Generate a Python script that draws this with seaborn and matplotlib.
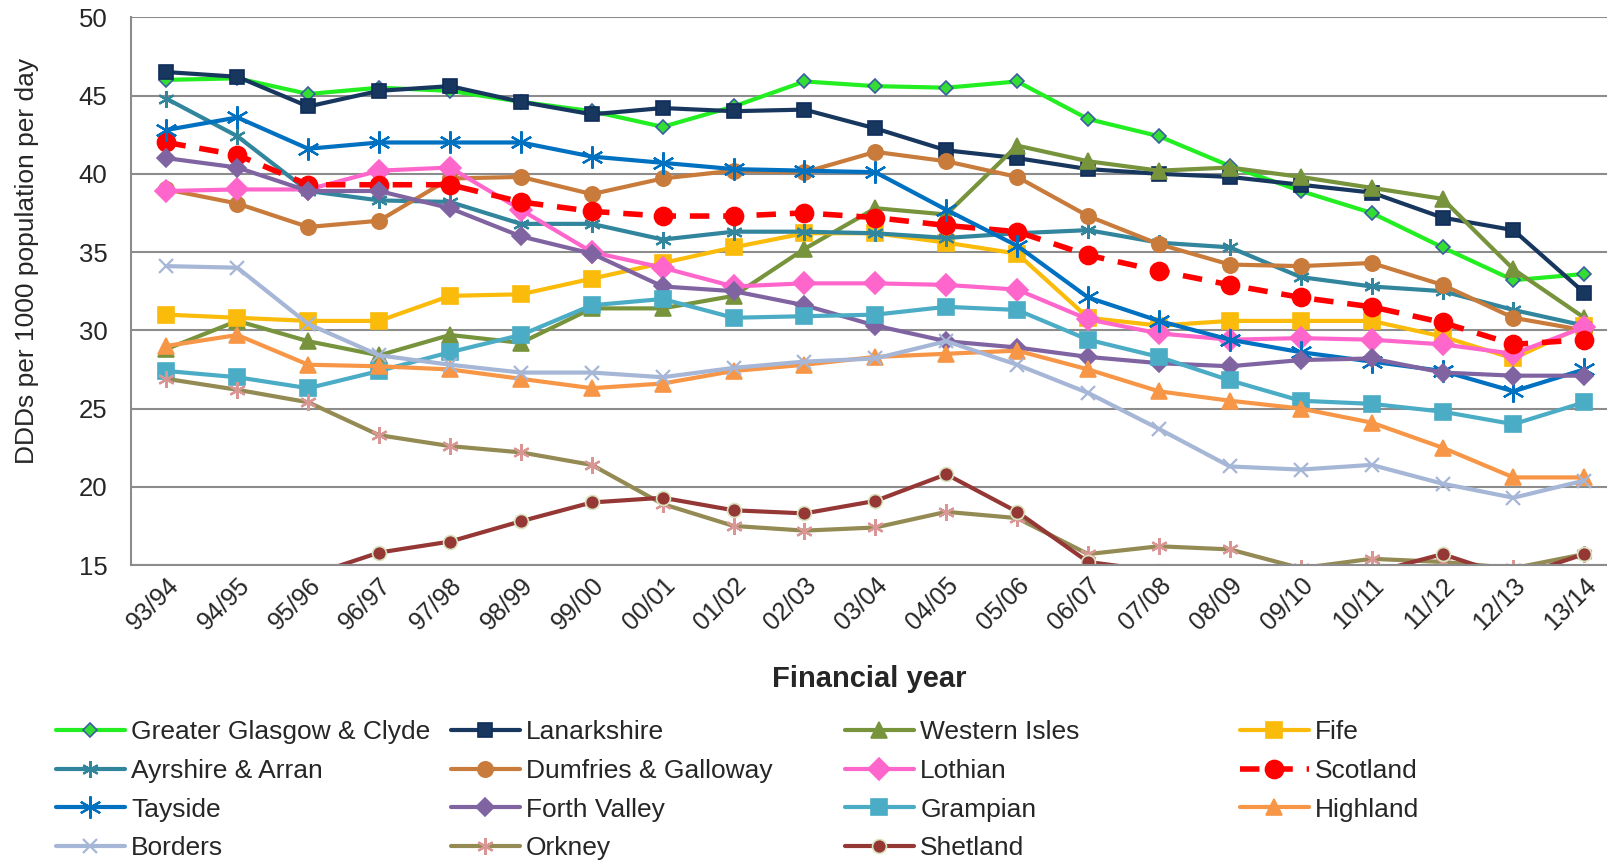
import pandas as pd
import matplotlib
matplotlib.use("Agg")
import matplotlib.pyplot as plt
import seaborn as sns

# financial years on the x axis
years = ["93/94", "94/95", "95/96", "96/97", "97/98", "98/99", "99/00", "00/01",
         "01/02", "02/03", "03/04", "04/05", "05/06", "06/07", "07/08", "08/09",
         "09/10", "10/11", "11/12", "12/13", "13/14"]

# DDDs per 1000 population per day
glasgow = [46.0, 46.1, 45.1, 45.5, 45.3, 44.6, 44.0, 43.0, 44.3, 45.9, 45.6,
           45.5, 45.9, 43.5, 42.4, 40.5, 38.9, 37.5, 35.3, 33.2, 33.6]
lanarkshire = [46.5, 46.2, 44.3, 45.3, 45.6, 44.6, 43.8, 44.2, 44.0, 44.1, 42.9,
               41.5, 41.0, 40.3, 40.0, 39.8, 39.3, 38.8, 37.2, 36.4, 32.4]
western_isles = [28.8, 30.6, 29.3, 28.4, 29.7, 29.2, 31.4, 31.4, 32.2, 35.2, 37.8,
                 37.4, 41.8, 40.8, 40.2, 40.4, 39.8, 39.1, 38.4, 33.9, 30.8]
fife = [31.0, 30.8, 30.6, 30.6, 32.2, 32.3, 33.3, 34.3, 35.3, 36.2, 36.2,
        35.6, 34.9, 30.8, 30.3, 30.6, 30.6, 30.6, 29.6, 28.2, 30.3]
ayrshire = [44.8, 42.4, 38.9, 38.3, 38.2, 36.8, 36.8, 35.8, 36.3, 36.3, 36.2,
            35.9, 36.2, 36.4, 35.6, 35.3, 33.4, 32.8, 32.5, 31.3, 30.3]
dumfries = [39.0, 38.1, 36.6, 37.0, 39.7, 39.8, 38.7, 39.7, 40.2, 40.1, 41.4,
            40.8, 39.8, 37.3, 35.5, 34.2, 34.1, 34.3, 32.9, 30.8, 30.0]
lothian = [38.9, 39.0, 39.0, 40.2, 40.4, 37.7, 35.0, 34.0, 32.8, 33.0, 33.0,
           32.9, 32.6, 30.7, 29.8, 29.4, 29.5, 29.4, 29.1, 28.5, 30.2]
scotland = [42.0, 41.2, 39.3, 39.3, 39.3, 38.2, 37.6, 37.3, 37.3, 37.5, 37.2,
            36.7, 36.3, 34.8, 33.8, 32.9, 32.1, 31.5, 30.5, 29.1, 29.4]
tayside = [42.8, 43.6, 41.6, 42.0, 42.0, 42.0, 41.1, 40.7, 40.3, 40.2, 40.1,
           37.7, 35.4, 32.1, 30.6, 29.4, 28.6, 28.0, 27.4, 26.1, 27.5]
forth_valley = [41.0, 40.4, 38.9, 38.9, 37.8, 36.0, 34.9, 32.8, 32.5, 31.6, 30.3,
                29.3, 28.9, 28.3, 27.9, 27.7, 28.1, 28.2, 27.3, 27.1, 27.1]
grampian = [27.4, 27.0, 26.3, 27.4, 28.6, 29.7, 31.6, 32.0, 30.8, 30.9, 31.0,
            31.5, 31.3, 29.4, 28.3, 26.8, 25.5, 25.3, 24.8, 24.0, 25.4]
highland = [29.0, 29.7, 27.8, 27.7, 27.5, 26.9, 26.3, 26.6, 27.4, 27.8, 28.3,
            28.5, 28.7, 27.5, 26.1, 25.5, 25.0, 24.1, 22.5, 20.6, 20.6]
borders = [34.1, 34.0, 30.4, 28.4, 27.8, 27.3, 27.3, 27.0, 27.6, 28.0, 28.2,
           29.3, 27.8, 26.0, 23.7, 21.3, 21.1, 21.4, 20.2, 19.3, 20.4]
orkney = [26.9, 26.2, 25.4, 23.3, 22.6, 22.2, 21.4, 18.9, 17.5, 17.2, 17.4,
          18.4, 18.0, 15.7, 16.2, 16.0, 14.8, 15.4, 15.2, 14.8, 15.7]
shetland = [14.0, 14.2, 14.3, 15.8, 16.5, 17.8, 19.0, 19.3, 18.5, 18.3, 19.1,
            20.8, 18.4, 15.2, 14.6, 14.3, 14.0, 14.5, 15.7, 14.2, 15.7]

asterisk = (6, 2, 0)

# name, values, line colour, marker, marker size, face, edge, line style
series = [
    ("Greater Glasgow & Clyde", glasgow, "#22EE22", "D", 7, "#33DD33", "#3A5FA0", "-"),
    ("Lanarkshire", lanarkshire, "#17375E", "s", 10, "#17375E", "#0F2B5B", "-"),
    ("Western Isles", western_isles, "#77933C", "^", 11, "#77933C", "#77933C", "-"),
    ("Fife", fife, "#FABB0A", "s", 11, "#FABB0A", "#FABB0A", "-"),
    ("Ayrshire & Arran", ayrshire, "#31859C", asterisk, 12, "#31859C", "#31859C", "-"),
    ("Dumfries & Galloway", dumfries, "#C87B3A", "o", 11, "#C87B3A", "#C87B3A", "-"),
    ("Lothian", lothian, "#FF66CC", "D", 11, "#FF66CC", "#FF66CC", "-"),
    ("Scotland", scotland, "#FF0000", "o", 13, "#FF0000", "#FF0000", (0, (3.5, 2.5))),
    ("Tayside", tayside, "#0070C0", asterisk, 16, "#0070C0", "#0070C0", "-"),
    ("Forth Valley", forth_valley, "#8064A2", "D", 9, "#8064A2", "#8064A2", "-"),
    ("Grampian", grampian, "#4BACC6", "s", 11, "#4BACC6", "#4BACC6", "-"),
    ("Highland", highland, "#F79646", "^", 11, "#F79646", "#F79646", "-"),
    ("Borders", borders, "#A6B6D6", "x", 10, "#A6B6D6", "#A6B6D6", "-"),
    ("Orkney", orkney, "#948A54", asterisk, 12, "#D99694", "#D99694", "-"),
    ("Shetland", shetland, "#953735", "o", 10, "#953735", "#D7E4BD", "-"),
]

sns.set_style("white")
plt.rcParams["font.family"] = ["Liberation Sans", "DejaVu Sans"]

fig = plt.figure(figsize=(16.07, 8.64), dpi=100)
ax = fig.add_axes([131 / 1607, 0.346, 1 - 131 / 1607, 0.634])

for name, vals, col, mk, ms, fc, ec, ls in series:
    df = pd.DataFrame({"year": years, "value": vals})
    lw = 4 if name == "Scotland" else 3
    mew = 1.6 if mk in (asterisk, "x") else 1.2
    sns.lineplot(data=df, x="year", y="value", ax=ax, sort=False, errorbar=None,
                 legend=False, label=name, color=col, linewidth=lw, linestyle=ls,
                 marker=mk, markersize=ms, markerfacecolor=fc,
                 markeredgecolor=ec, markeredgewidth=mew)

ax.set_ylim(15, 50)
ax.set_yticks(range(15, 51, 5))
ax.set_xlim(-0.5, 20.32)
ax.grid(axis="y", color="#8C8C8C", linewidth=1.5)
ax.grid(axis="x", visible=False)
ax.set_axisbelow(True)
for s in ["top", "right"]:
    ax.spines[s].set_visible(False)
for s in ["left", "bottom"]:
    ax.spines[s].set_color("#8C8C8C")
    ax.spines[s].set_linewidth(1.5)

ax.tick_params(axis="y", labelsize=18.5, length=0, pad=17)
ax.tick_params(axis="x", labelsize=18, length=0, pad=6)
plt.setp(ax.get_xticklabels(), rotation=45, ha="right", rotation_mode="anchor")

ax.set_xlabel("Financial year", fontsize=21, fontweight="bold", labelpad=22)
ax.set_ylabel("DDDs per 1000 population per day", fontsize=19)
ax.yaxis.set_label_coords(-0.062, 0.555)

# legend: four columns placed like the original (row-major order)
handles, labels = ax.get_legend_handles_labels()
col_x = [56, 451, 845, 1240]
for c in range(4):
    idx = list(range(c, len(handles), 4))
    fig.legend([handles[i] for i in idx], [labels[i] for i in idx],
               loc="upper left", bbox_to_anchor=(col_x[c] / 1607, 1 - 720 / 864),
               frameon=False, fontsize=19, ncol=1, borderpad=0, borderaxespad=0,
               handlelength=2.6, handletextpad=0.25, labelspacing=0.56)

fig.savefig("out.png", dpi=100)
plt.close(fig)
